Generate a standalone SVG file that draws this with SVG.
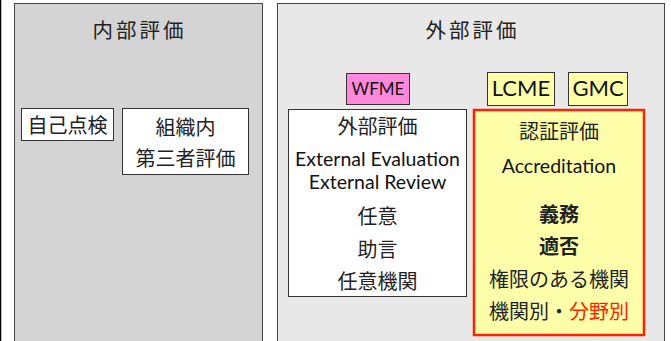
<svg xmlns="http://www.w3.org/2000/svg" width="671" height="341" viewBox="0 0 671 341">
<style>
.jp{font-family:"Noto Sans CJK JP","Noto Sans CJK SC",sans-serif;fill:#222;text-anchor:middle;font-size:20px}
.en{font-family:Lato,"Open Sans",sans-serif;fill:#111;text-anchor:middle}
.box{stroke:#333;stroke-width:1}
</style>
<rect x="0" y="0" width="671" height="341" fill="#fff"/>
<line x1="0.5" y1="0" x2="0.5" y2="341" stroke="#000" stroke-width="1.5"/>
<g id="internal">
<rect x="14.5" y="3.5" width="248" height="345" fill="#d4d4d4" stroke="#444"/>
<text class="jp" x="139.5" y="38" style="font-size:20.5px" letter-spacing="3">内部評価</text>
</g>
<g id="self-check">
<rect class="box" x="21.5" y="108.5" width="92" height="32" fill="#fff"/>
<text class="jp" x="67.5" y="133">自己点検</text>
</g>
<g id="org-third-party">
<rect class="box" x="122.5" y="108.5" width="126" height="66" fill="#fff"/>
<text class="jp" x="185.5" y="135">組織内</text>
<text class="jp" x="185.5" y="166">第三者評価</text>
</g>
<g id="external">
<rect x="277.5" y="3.5" width="387" height="345" fill="#e8e8e8" stroke="#444"/>
<text class="jp" x="472.5" y="38" style="font-size:20.5px" letter-spacing="3">外部評価</text>
</g>
<g id="wfme">
<rect class="box" x="346.5" y="73.5" width="63" height="31" fill="#ff88dd"/>
<text class="en" x="378" y="95" font-size="17">WFME</text>
</g>
<g id="lcme">
<rect class="box" x="487.5" y="72.5" width="67" height="33" fill="#ffffaa"/>
<text class="en" x="521" y="96" font-size="22">LCME</text>
</g>
<g id="gmc">
<rect class="box" x="568.5" y="72.5" width="59" height="33" fill="#ffffaa"/>
<text class="en" x="598" y="96" font-size="22">GMC</text>
</g>
<g id="external-eval">
<rect class="box" x="288.5" y="109.5" width="178" height="187" fill="#fff"/>
<text class="jp" x="377.5" y="134">外部評価</text>
<text class="en" x="377.5" y="166" font-size="19.5">External Evaluation</text>
<text class="en" x="377.5" y="189" font-size="19.5">External Review</text>
<text class="jp" x="377.5" y="224">任意</text>
<text class="jp" x="377.5" y="257">助言</text>
<text class="jp" x="377.5" y="289">任意機関</text>
</g>
<g id="accreditation">
<rect x="474" y="110" width="170" height="225" fill="#ffffaa" stroke="#ff2200" stroke-width="2.5"/>
<text class="jp" x="559" y="139">認証評価</text>
<text class="en" x="559" y="173" font-size="19.5">Accreditation</text>
<text class="jp" x="559" y="222" font-weight="bold">義務</text>
<text class="jp" x="559" y="254" font-weight="bold">適否</text>
<text class="jp" x="559" y="287">権限のある機関</text>
<text class="jp" x="559" y="319">機関別・<tspan fill="#ff2200">分野別</tspan></text>
</g>
<g id="connectors"/>
</svg>
